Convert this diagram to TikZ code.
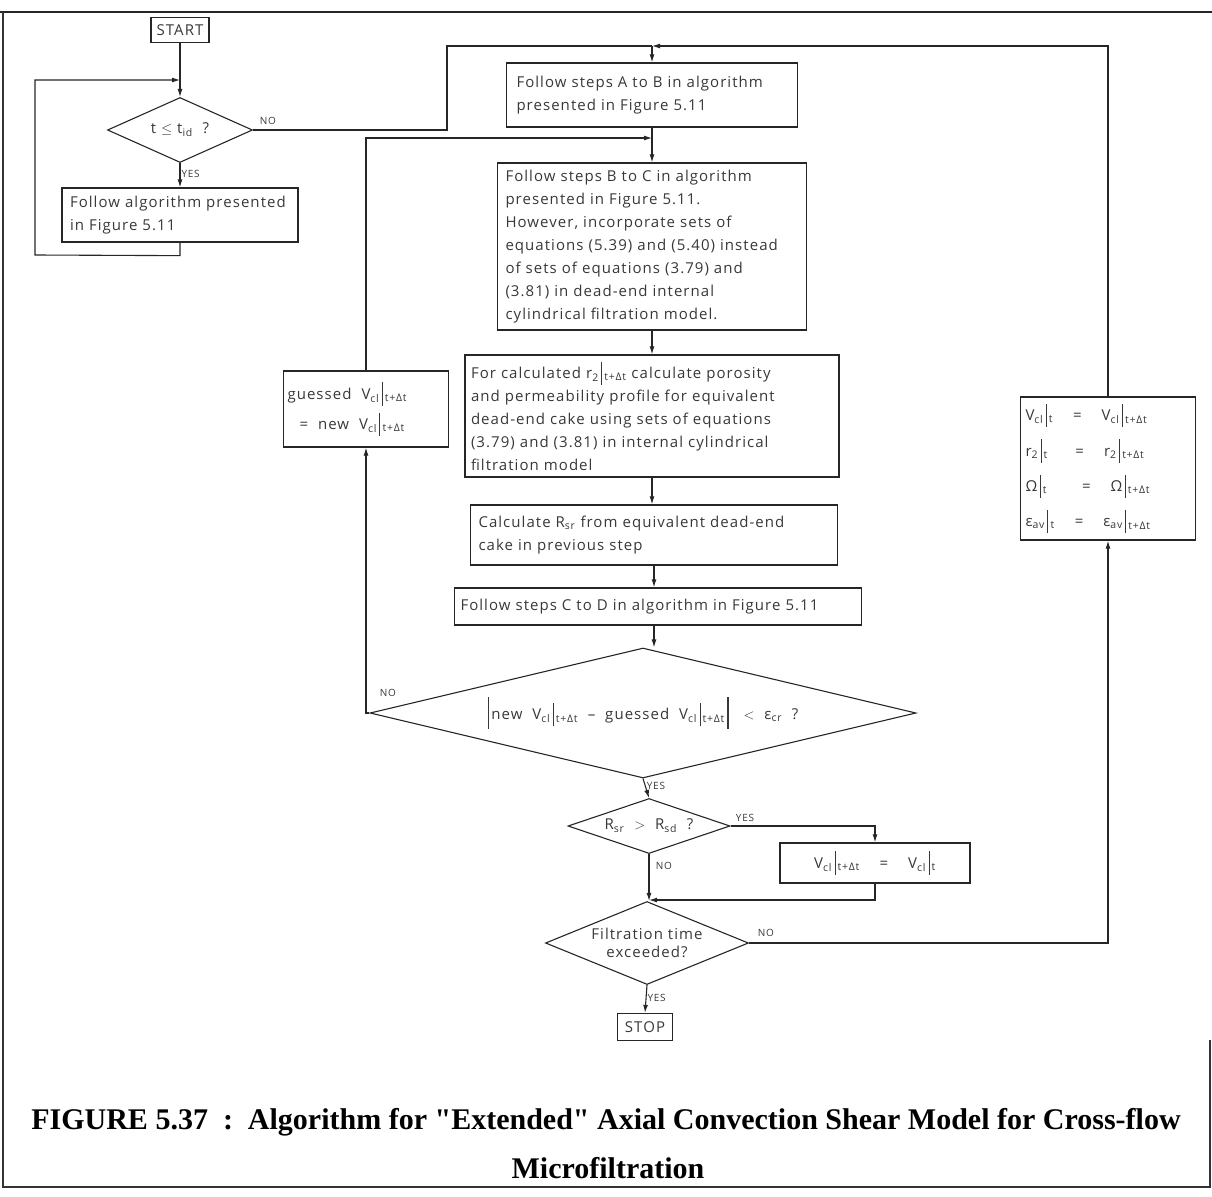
\documentclass[tikz,border=0pt]{standalone}
\usepackage{fontspec}
\setmainfont{Liberation Serif}[Ligatures=TeXOff]
\newfontfamily\chartfont{Open Sans}[LetterSpace=7]
\usetikzlibrary{shapes.geometric,arrows.meta}

% subscript and "evaluated at" bar
\newcommand\sbs[1]{\textsubscript{#1}}
\newcommand\evat[1]{\,\rule[-0.8ex]{0.6pt}{2.9ex}\,\textsubscript{#1}}
\newcommand\bigbar{\rule[-1.1ex]{1.3pt}{3.9ex}}

\tikzset{
  every node/.style={font=\chartfont\fontsize{15}{23}\selectfont, text=black!78},
  box/.style={draw=black!85, rectangle, line width=1.3pt, inner xsep=8pt, inner ysep=3pt, align=left},
  dec/.style={draw=black!85, diamond, inner sep=0pt, line width=1.1pt, align=center},
  link/.style={draw=black!85, line width=1.1pt},
  flow/.style={link, -{Latex[length=8pt,width=5pt]}},
  lbl/.style={font=\chartfont\fontsize{10}{11}\selectfont, inner sep=1pt},
}

\begin{document}
\begin{tikzpicture}[x=1pt,y=-1pt]
\useasboundingbox (0,0) rectangle (1212,1196);

% frame
\draw[line width=2.4pt, black!85] (0,12) -- (1212,12);
\draw[line width=1.4pt, black!80] (3,12) -- (3,1187) -- (1210,1187) -- (1210,1040);

% ---------- nodes ----------
\node[box, minimum width=58pt, minimum height=25pt, inner xsep=3pt] (start) at (180,30) {START};
\node[dec, minimum width=145pt, minimum height=65pt] (d1) at (180,130)
  {\makebox[0pt]{t $\leq$ t\sbs{id} \ ?}};
\node[box, minimum width=236pt, minimum height=54pt, text width=220pt] (follow) at (180,215)
  {Follow algorithm presented\\in Figure 5.11};

\node[box, minimum width=287pt, minimum height=64pt, text width=271pt, inner xsep=10pt] (ab) at (652,95)
  {Follow steps A to B in algorithm\\presented in Figure 5.11};
\node[box, minimum width=309pt, minimum height=167pt, text width=293pt] (bc) at (652,246.5)
  {Follow steps B to C in algorithm\\presented in Figure 5.11.\\However, incorporate sets of\\equations (5.39) and (5.40) instead\\of sets of equations (3.79) and\\(3.81) in dead-end internal\\cylindrical filtration model.};
\node[box, minimum width=374pt, minimum height=122pt, text width=362pt, inner xsep=6pt] (por) at (652,416)
  {For calculated r\sbs{2}\evat{t+Δt}\ calculate porosity\\and permeability profile for equivalent\\dead-end cake using sets of equations\\(3.79) and (3.81) in internal cylindrical\\filtration model};
\node[box, minimum width=367pt, minimum height=60pt, text width=351pt] (calc) at (654,535)
  {Calculate R\sbs{sr}\ from equivalent dead-end\\cake in previous step};
\node[box, minimum width=407pt, minimum height=37pt, text width=395pt, inner xsep=6pt] (cd) at (658,606.5)
  {Follow steps C to D in algorithm in Figure 5.11};

\node[box, minimum width=165pt, minimum height=76pt, text width=157pt, align=left, inner xsep=4pt] (guess) at (366,409)
  {guessed \ V\sbs{cl}\evat{t+Δt}\\[6pt]\hspace*{12pt}= \ new \ V\sbs{cl}\evat{t+Δt}};

\node[dec, minimum width=546pt, minimum height=130pt] (d2) at (643,713)
  {\makebox[0pt]{\bigbar\,new \ V\sbs{cl}\evat{t+Δt} \ – \ guessed \ V\sbs{cl}\evat{t+Δt}\,\bigbar\quad $<$ \ ε\sbs{cr} \ ?}};
\node[dec, minimum width=162pt, minimum height=55pt] (d3) at (649,826)
  {\makebox[0pt]{R\sbs{sr} \ $>$ \ R\sbs{sd} \ ?}};
\node[box, minimum width=190pt, minimum height=40pt, align=center] (keep) at (875,863)
  {V\sbs{cl}\evat{t+Δt} \quad = \quad V\sbs{cl}\evat{t}};
\node[dec, minimum width=203pt, minimum height=83pt] (d4) at (647,943)
  {\makebox[0pt]{\shortstack{Filtration time\\[4pt]exceeded?}}};
\node[box, minimum width=55pt, minimum height=27pt, inner xsep=3pt] (stop) at (645,1027) {STOP};

\node[box, minimum width=175pt, minimum height=143pt, text width=165pt, inner xsep=5pt, align=left] (upd) at (1108,468.5)
  {V\sbs{cl}\evat{t} \quad = \quad V\sbs{cl}\evat{t+Δt}\\[11pt]
   r\sbs{2}\evat{t} \quad\ \,= \quad r\sbs{2}\evat{t+Δt}\\[11pt]
   Ω\evat{t} \quad\ \ \ = \quad Ω\evat{t+Δt}\\[11pt]
   ε\sbs{av}\evat{t} \quad = \quad ε\sbs{av}\evat{t+Δt}};

% merge points
\coordinate (m0) at (180,80);
\coordinate (m1) at (652,46);
\coordinate (m2) at (652,138);
\coordinate (m3) at (649,900);

% ---------- connectors ----------
\draw[link] (start) -- (m0);
\draw[flow] (m0) -- (d1.north);
\draw[flow] (follow.south) -- ++(0,13) -- (35,255) -- (35,80) -- (m0);
\draw[flow] (d1.south) -- (follow.north) node[lbl, pos=0.45, right] {YES};
\draw[link] (d1.east) -- (447,130) -- (447,46) -- (m1);
\node[lbl] at (268,121) {NO};
\draw[flow] (upd.north) |- (m1);
\draw[flow] (m1) -- (ab.north);

\draw[flow] (ab.south) -- (ab.south |- bc.north);
\draw[flow] (guess.north) |- (m2);
\draw[flow] (bc.south) -- (bc.south |- por.north);
\draw[flow] (por.south) -- (por.south |- calc.north);
\draw[flow] (calc.south) -- (calc.south |- cd.north);
\draw[flow] (cd.south -| calc.south) -- (calc.south |- d2.north);

\draw[flow] (d2.west) -| (guess.south);
\node[lbl] at (388,693) {NO};

\draw[flow] (d2.south) -- (d3.north) node[lbl, pos=0.4, right] {YES};
\draw[flow] (d3.east) -| (keep.north);
\node[lbl] at (745,818) {YES};
\draw[flow] (d3.south) -- (d3.south |- d4.north);
\node[lbl] at (664,866) {NO};
\draw[flow] (keep.south) |- (m3);

\draw[flow] (d4.east) -| (upd.south);
\node[lbl] at (766,933) {NO};
\draw[flow] (d4.south) -- (stop.north) node[lbl, pos=0.45, right] {YES};

% ---------- caption ----------
\node[font=\bfseries\fontsize{30}{32}\selectfont, text=black] (cap1) at (606,1122)
  {FIGURE 5.37 \ :\ \ Algorithm for "Extended" Axial Convection Shear Model for Cross-flow};
\node[font=\bfseries\fontsize{30}{32}\selectfont, text=black] (cap2) at (608,1168) {Microfiltration};
\end{tikzpicture}
\end{document}
